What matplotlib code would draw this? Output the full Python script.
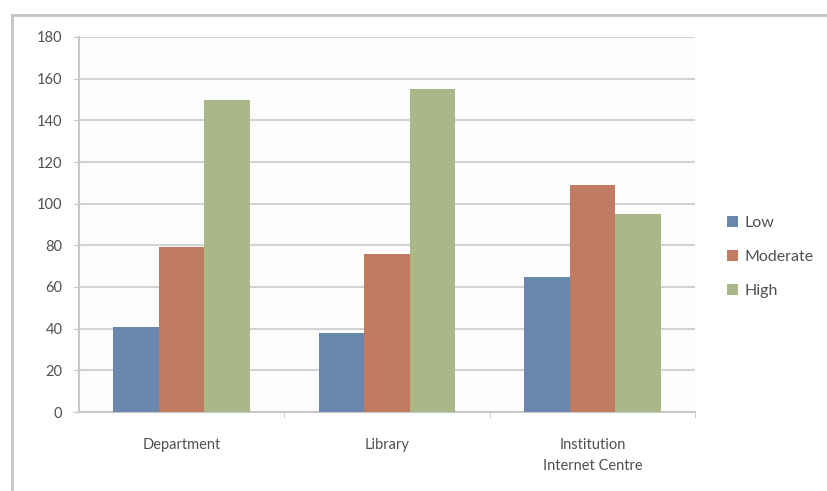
import numpy as np
import matplotlib.pyplot as plt
from matplotlib.lines import Line2D

plt.rcParams['font.family'] = ['Lato', 'DejaVu Sans']

categories = ['Department', 'Library', 'Institution\nInternet Centre']
series = ['Low', 'Moderate', 'High']
low = [41, 38, 65]
moderate = [79, 76, 109]
high = [150, 155, 95]
colors = ['#6a87ae', '#c27b63', '#aab786']
yticks = [0, 20, 40, 60, 80, 100, 120, 140, 160, 180]

fig = plt.figure(figsize=(8.28, 4.91), dpi=100)
fig.patch.set_facecolor('white')

# outer chart frame (top and left edges only visible)
fig.add_artist(Line2D([12 / 828, 1.0], [1 - 15 / 491, 1 - 15 / 491],
                      color='#c4c4c4', lw=2, transform=fig.transFigure))
fig.add_artist(Line2D([12 / 828, 12 / 828], [0.0, 1 - 15 / 491],
                      color='#c4c4c4', lw=2, transform=fig.transFigure))

ax = fig.add_axes([79 / 828, 1 - 412 / 491, (695 - 79) / 828, (412 - 37) / 491])
ax.set_facecolor('#fdfdfd')

x = np.arange(len(categories))
w = 0.222
for i, (vals, name) in enumerate(zip([low, moderate, high], series)):
    ax.bar(x + (i - 1) * w, vals, width=w, color=colors[i], label=name, zorder=3)

ax.set_xlim(-0.5, 2.5)
ax.set_ylim(0, 180)
ax.set_yticks(yticks)
ax.set_xticks(x)
ax.set_xticklabels(categories, fontsize=10.5, color='#505050', linespacing=1.6)
ax.tick_params(axis='y', labelsize=10.5, labelcolor='#505050', length=4,
               color='#c8c8c8', pad=8)
ax.tick_params(axis='x', length=0, pad=19)
ax.set_xticks([0.5, 1.5, 2.5], minor=True)
ax.tick_params(axis='x', which='minor', length=4, color='#c8c8c8', direction='out')

ax.yaxis.grid(True, color='#d2d2d2', lw=1.5, zorder=0)
for side in ['top', 'right']:
    ax.spines[side].set_visible(False)
ax.spines['left'].set_color('#c8c8c8')
ax.spines['bottom'].set_color('#c8c8c8')
ax.spines['left'].set_linewidth(1.5)
ax.spines['bottom'].set_linewidth(1.5)

leg = ax.legend(loc='center left', bbox_to_anchor=(1.028, 0.413), frameon=False,
                fontsize=11.5, handlelength=0.7, handleheight=0.7,
                handletextpad=0.4, labelspacing=1.25)
for t in leg.get_texts():
    t.set_color('#505050')

fig.savefig('out.png', dpi=100)
